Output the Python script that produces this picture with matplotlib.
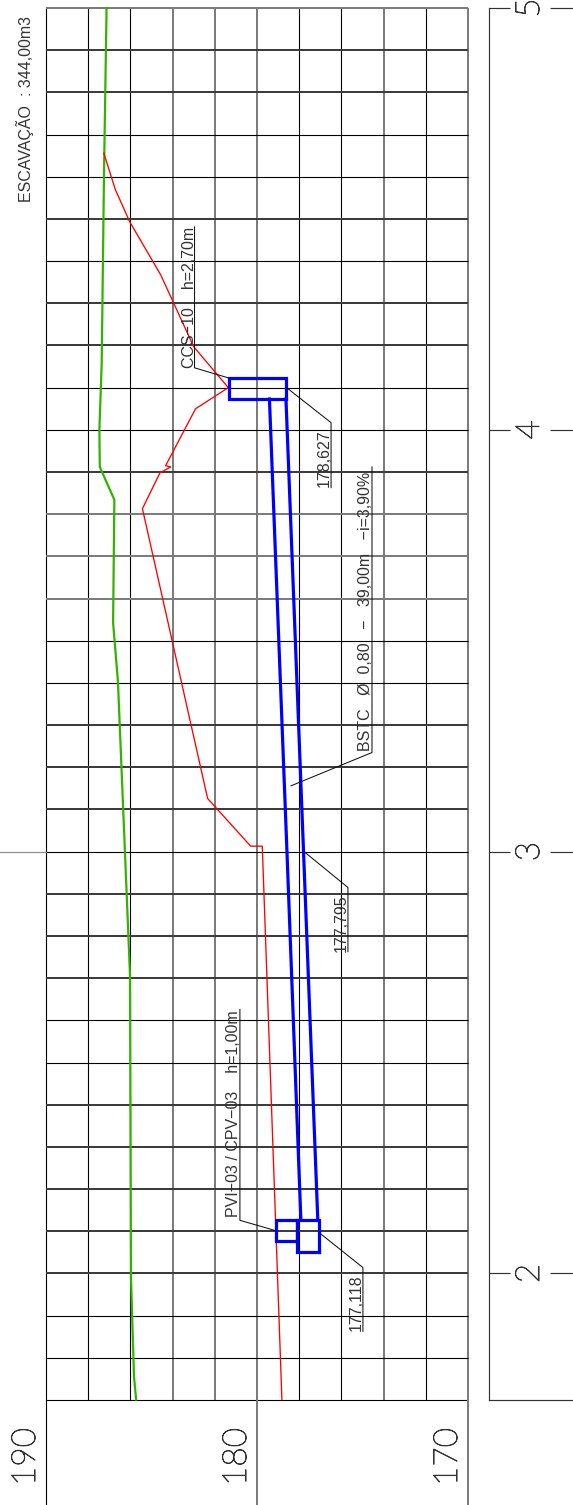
import matplotlib
matplotlib.use("Agg")
import matplotlib.pyplot as plt
import matplotlib.patheffects as pe

W, H = 573, 1505
plt.rcParams['font.family'] = ['Liberation Sans', 'DejaVu Sans']

# Profile data: elevation (m) against station
elev_ticks = [190, 180, 170]
elev_grid = [190, 188, 186, 184, 182, 180, 178, 176, 174, 172, 170]
station_grid = [5.0, 4.9, 4.8, 4.7, 4.6, 4.5, 4.4, 4.3, 4.2, 4.1, 4.0, 3.9, 3.8, 3.7, 3.6, 3.5, 3.4,
                3.3, 3.2, 3.1, 3.0, 2.9, 2.8, 2.7, 2.6, 2.5, 2.4, 2.3, 2.2, 2.1, 2.0, 1.9, 1.8, 1.7]
station_ticks = [2, 3, 4, 5]

green_elev = [187.13, 187.25, 187.36, 187.47, 187.45, 186.76, 186.82, 186.59, 186.02, 185.97, 185.83, 185.73]
green_st = [5.0, 4.609, 4.159, 4.0, 3.912, 3.834, 3.543, 3.403, 2.709, 1.986, 1.756, 1.701]

red_elev = [187.26, 186.71, 186.03, 184.56, 183.0, 181.36, 182.91, 184.33, 184.09, 184.60, 185.43,
            182.34, 180.30, 179.75, 178.82]
red_st = [4.656, 4.569, 4.493, 4.367, 4.197, 4.100, 4.050, 3.915, 3.912, 3.898, 3.813,
          3.126, 3.013, 3.013, 1.701]

pipe_st = [4.073, 3.0, 2.126]
pipe_invert = [178.627, 177.795, 177.118]
pipe_crown = [179.41, 178.58, 177.92]

box_ccs = (178.61, 181.34, 4.073, 4.123)
box_pvi = (178.10, 179.10, 2.076, 2.126)
box_cpv = (177.06, 178.10, 2.050, 2.126)

notes = ["CCS−10    h=2,70m", "178,627", "BSTC   Ø  0,80   −   39,00m   −i=3,90%", "177,795",
         "PVI−03 / CPV−03    h=1,00m", "177,118", "ESCAVAÇÃO  : 344,00m3"]
note_elev = [183.2, 176.80, 174.85, 176.03, 181.10, 175.30, 191.0]
note_st = [4.147, 3.865, 3.239, 2.763, 2.133, 1.863, 4.540]

leaders = [
    ([182.96, 182.96, 181.35], [4.481, 4.147, 4.123]),
    ([178.60, 176.49, 176.49], [4.100, 4.017, 3.863]),
    ([178.39, 174.55, 174.55], [3.156, 3.235, 3.912]),
    ([177.77, 175.69, 175.69], [3.0, 2.915, 2.763]),
    ([179.15, 180.81, 180.81], [2.102, 2.126, 2.626]),
    ([177.01, 174.98, 174.98], [2.095, 2.014, 1.863]),
]

# Line weights of the grid, as they appear in the reference
STYLES = {'t': (0.8, '#000000'), 'k': (1.44, '#3c3c3c'), 'g': (1.44, '#7c7c7c')}
h_styles = "gkkttktkkttkgggttkkktkkkttkkkkkttt"
v_styles = "tttgggttgtg"
ext_styles = "tgg"

fig = plt.figure(figsize=(W / 100, H / 100), dpi=100)


def rect(l, t, r, b):
    return [l / W, 1 - b / H, (r - l) / W, (b - t) / H]


ax = fig.add_axes(rect(46, 8, 468, 1400))
ax.set_xlim(190, 170)
ax.set_ylim(1.7, 5.0)
ax.set_xticks([])
ax.set_yticks([])
for s in ax.spines.values():
    s.set_visible(False)

for e, c in zip(elev_grid, v_styles):
    lw, col = STYLES[c]
    ax.vlines(e, 1.7, 5.0, color=col, lw=lw, zorder=1, clip_on=False)
for st, c in zip(station_grid, h_styles):
    lw, col = STYLES[c]
    ax.hlines(st, 170, 190, color=col, lw=lw, zorder=1, clip_on=False)

xtr = ax.get_xaxis_transform()
ytr = ax.get_yaxis_transform()
BIG = dict(family=['Lato', 'Liberation Sans'], weight='light', fontsize=24, color='#333333',
           path_effects=[pe.withStroke(linewidth=0.65, foreground='#333333')])
for e, c in zip(elev_ticks, ext_styles):
    lw, col = STYLES[c]
    ax.plot([e, e], [0, -105 / 1392], transform=xtr, color=col, lw=lw, clip_on=False, zorder=1)
    ax.annotate(str(e), xy=(e, 0), xycoords=xtr, xytext=(-20 * .72, -57 * .72),
                textcoords='offset points', rotation=90, ha='center', va='center', **BIG)
ax.plot([-46 / 422, 0], [3, 3], transform=ytr, color='#909090', lw=0.9, clip_on=False, zorder=1)

ax.plot(green_elev, green_st, color='#33b300', lw=1.6, zorder=3, clip_on=False, solid_joinstyle='miter')
ax.plot(red_elev, red_st, color='#ff0000', lw=0.95, zorder=3, clip_on=False)

BLUE = '#0000ff'
ax.plot(pipe_invert, pipe_st, color=BLUE, lw=2.3, zorder=4)
ax.plot(pipe_crown, pipe_st, color=BLUE, lw=2.3, zorder=4)
for e0, e1, s0, s1 in (box_ccs, box_pvi, box_cpv):
    ax.plot([e0, e1, e1, e0, e0], [s0, s0, s1, s1, s0], color=BLUE, lw=2.3, zorder=4,
            solid_joinstyle='miter')

for le, ls in leaders:
    ax.plot(le, ls, color='#111111', lw=0.75, zorder=5)
for t, e, s in zip(notes, note_elev, note_st):
    ax.text(e, s, t, rotation=90, ha='center', va='bottom', fontsize=11.5, color='#333333',
            zorder=6, clip_on=False)

# Station band on the right
ax2 = fig.add_axes(rect(489, 8, W, 1400), sharey=ax)
ax2.set_xlim(0, 1)
ax2.set_xticks([])
ax2.tick_params(left=False, labelleft=False)
ax2.patch.set_alpha(0)
for k in ('top', 'right'):
    ax2.spines[k].set_visible(False)
for k in ('left', 'bottom'):
    ax2.spines[k].set_linewidth(0.85)
    ax2.spines[k].set_color('#333333')
for st in station_ticks:
    ax2.hlines(st, 0, 21 / 84, color='#333333', lw=0.85, clip_on=False)
    ax2.hlines(st, 61 / 84, 1, color='#333333', lw=0.85, clip_on=False)
    ax2.annotate(str(st), xy=(41 / 84, st), xycoords='data', rotation=90, ha='center', va='center',
                 annotation_clip=False, **BIG)

fig.savefig('out.png', dpi=100)
